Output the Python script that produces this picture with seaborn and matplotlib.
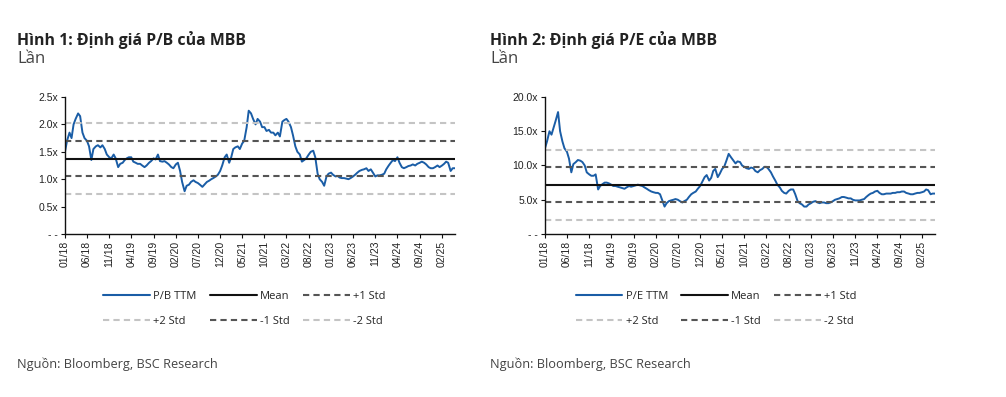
import pandas as pd
import matplotlib
matplotlib.use('Agg')
import matplotlib.pyplot as plt
import matplotlib.dates as mdates
from matplotlib.lines import Line2D
from matplotlib.ticker import FuncFormatter
import seaborn as sns

# === Data (semi-monthly readings, 1st and 15th of each month) ===
pb_values = [
    1.50, 1.70, 1.85, 1.75, 2.00, 2.10, 2.20, 2.15, 1.85, 1.75, 1.70, 1.60,
    1.35, 1.55, 1.60, 1.62, 1.58, 1.62, 1.55, 1.45, 1.40, 1.38, 1.45, 1.38,  # 2018
    1.22, 1.28, 1.30, 1.35, 1.38, 1.40, 1.40, 1.32, 1.30, 1.28, 1.28, 1.25,
    1.22, 1.25, 1.30, 1.33, 1.38, 1.36, 1.45, 1.33, 1.32, 1.33, 1.30, 1.27,  # 2019
    1.22, 1.20, 1.27, 1.30, 1.15, 0.95, 0.78, 0.88, 0.90, 0.95, 0.98, 0.95,
    0.93, 0.90, 0.86, 0.90, 0.95, 0.97, 1.00, 1.02, 1.05, 1.08, 1.15, 1.25,  # 2020
    1.40, 1.45, 1.30, 1.40, 1.55, 1.58, 1.60, 1.55, 1.65, 1.70, 1.95, 2.25,
    2.20, 2.10, 2.00, 2.10, 2.05, 1.95, 1.95, 1.88, 1.90, 1.85, 1.85, 1.80,  # 2021
    1.85, 1.78, 2.05, 2.08, 2.10, 2.05, 1.95, 1.80, 1.60, 1.50, 1.45, 1.32,
    1.35, 1.38, 1.45, 1.50, 1.52, 1.40, 1.10, 1.00, 0.95, 0.88, 1.05, 1.10,  # 2022
    1.12, 1.08, 1.05, 1.06, 1.03, 1.02, 1.02, 1.01, 1.00, 1.02, 1.05, 1.08,
    1.12, 1.15, 1.17, 1.18, 1.20, 1.15, 1.18, 1.12, 1.05, 1.07, 1.07, 1.08,  # 2023
    1.10, 1.18, 1.25, 1.30, 1.35, 1.33, 1.40, 1.30, 1.22, 1.20, 1.22, 1.24,
    1.25, 1.27, 1.25, 1.28, 1.30, 1.32, 1.30, 1.27, 1.22, 1.20, 1.20, 1.22,  # 2024
    1.25, 1.22, 1.25, 1.28, 1.32, 1.30, 1.15, 1.20, 1.20,                    # 2025
]
pe_values = [
    12.5, 13.5, 15.0, 14.5, 15.5, 16.5, 17.8, 15.0, 13.5, 12.5, 12.0, 11.0,
    9.0, 10.2, 10.5, 10.8, 10.7, 10.5, 10.0, 9.0, 8.7, 8.5, 8.5, 8.7,        # 2018
    6.5, 7.0, 7.3, 7.5, 7.5, 7.4, 7.2, 7.0, 7.0, 6.9, 6.8, 6.7,
    6.6, 6.8, 7.0, 6.9, 7.0, 7.1, 7.2, 7.1, 7.0, 6.8, 6.6, 6.4,              # 2019
    6.2, 6.1, 6.0, 6.0, 5.8, 5.0, 4.0, 4.5, 4.8, 4.9, 5.0, 5.1,
    5.0, 4.8, 4.6, 4.8, 5.0, 5.4, 5.8, 6.0, 6.2, 6.6, 7.0, 7.6,              # 2020
    8.3, 8.6, 7.8, 8.2, 9.2, 9.5, 8.3, 8.8, 9.5, 9.8, 10.8, 11.7,
    11.2, 10.8, 10.3, 10.6, 10.5, 10.0, 9.8, 9.6, 9.5, 9.7, 9.6, 9.2,        # 2021
    9.0, 9.3, 9.5, 9.8, 9.8, 9.5, 9.0, 8.4, 7.8, 7.2, 6.8, 6.3,
    6.0, 5.9, 6.3, 6.5, 6.5, 5.8, 4.8, 4.5, 4.3, 4.0, 4.0, 4.3,              # 2022
    4.5, 4.7, 4.8, 4.6, 4.5, 4.6, 4.6, 4.5, 4.5, 4.6, 4.8, 5.0,
    5.1, 5.2, 5.4, 5.4, 5.3, 5.2, 5.2, 5.0, 4.9, 4.9, 4.9, 5.0,              # 2023
    5.1, 5.4, 5.7, 5.9, 6.0, 6.2, 6.3, 6.0, 5.8, 5.8, 5.9, 5.9,
    5.9, 6.0, 6.0, 6.1, 6.1, 6.2, 6.2, 6.0, 5.9, 5.8, 5.8, 5.9,              # 2024
    6.0, 6.0, 6.1, 6.2, 6.5, 6.4, 5.8, 5.9, 5.9,                            # 2025
]
pb_mean, pb_std = 1.375, 0.325
pe_mean, pe_std = 7.2, 2.55
pb_yticks = [0, 0.5, 1.0, 1.5, 2.0, 2.5]
pe_yticks = [0, 5, 10, 15, 20]

BLUE = "#1a5da6"
DARK = "#555555"
LIGHT = "#c4c4c4"
TEXT_FONT = ["Open Sans", "DejaVu Sans"]

sns.set_theme(style="white")
plt.rcParams['font.family'] = ['Liberation Sans', 'DejaVu Sans']

fig = plt.figure(figsize=(10.06, 3.97), dpi=100)


def draw_panel(left, values, mean, std, yticks, fmt, label, title, legend_x, text_x):
    ax = fig.add_axes([left, 0.4106, 0.3877, 0.3451])
    dates = pd.date_range("2018-01-01", periods=len(values), freq="SMS")
    df = pd.DataFrame({"date": dates, "value": values})
    sns.lineplot(data=df, x="date", y="value", ax=ax, color=BLUE, linewidth=1.4)
    dash = (3.0, 2.0)
    ax.axhline(mean, color="#111111", linewidth=1.5)
    ax.axhline(mean + std, color=DARK, linewidth=1.5, dashes=dash)
    ax.axhline(mean - std, color=DARK, linewidth=1.5, dashes=dash)
    ax.axhline(mean + 2 * std, color=LIGHT, linewidth=1.5, dashes=dash)
    ax.axhline(mean - 2 * std, color=LIGHT, linewidth=1.5, dashes=dash)

    ax.set_xlim(dates[0], dates[-1])
    ax.set_ylim(yticks[0], yticks[-1])
    ax.set_yticks(yticks)
    ax.yaxis.set_major_formatter(FuncFormatter(lambda v, p: "- -" if v == 0 else fmt.format(v)))
    ax.set_xticks(pd.date_range("2018-01-01", dates[-1], freq="5MS"))
    ax.xaxis.set_major_formatter(mdates.DateFormatter("%m/%y"))
    ax.set_xlabel("")
    ax.set_ylabel("")
    for s in ["top", "right"]:
        ax.spines[s].set_visible(False)
    for s in ["left", "bottom"]:
        ax.spines[s].set_color("#111111")
        ax.spines[s].set_linewidth(1.0)
    ax.tick_params(axis="both", which="major", direction="out", length=3, width=0.8,
                   color="#111111", labelsize=7.5, labelcolor="#222222", pad=2,
                   left=True, bottom=True)
    ax.tick_params(axis="x", labelrotation=90)

    handles = [
        Line2D([], [], color=BLUE, linewidth=1.5),
        Line2D([], [], color=LIGHT, linewidth=1.5, dashes=dash),
        Line2D([], [], color="#111111", linewidth=1.5),
        Line2D([], [], color=DARK, linewidth=1.5, dashes=dash),
        Line2D([], [], color=DARK, linewidth=1.5, dashes=dash),
        Line2D([], [], color=LIGHT, linewidth=1.5, dashes=dash),
    ]
    labels = [label, "+2 Std", "Mean", "-1 Std", "+1 Std", "-2 Std"]
    fig.legend(handles, labels, loc="upper center", bbox_to_anchor=(legend_x, 0.292),
               ncol=3, frameon=False, handlelength=4.2, handletextpad=0.3,
               columnspacing=1.2, labelspacing=1.25,
               prop={"family": TEXT_FONT, "size": 8})

    fig.text(text_x, 0.887, title, fontsize=11.4, fontweight="bold", color="#222222",
             family=TEXT_FONT, va="baseline")
    fig.text(text_x, 0.841, "Lần", fontsize=12, color="#444444",
             family=TEXT_FONT, va="baseline")
    fig.text(text_x, 0.073, "Nguồn: Bloomberg, BSC Research", fontsize=9.2, color="#444444",
             family=TEXT_FONT, va="baseline")


draw_panel(0.0646, pb_values, pb_mean, pb_std, pb_yticks, "{:.1f}x", "P/B TTM",
           "Hình 1: Định giá P/B của MBB", 0.243, 0.017)
draw_panel(0.5417, pe_values, pe_mean, pe_std, pe_yticks, "{:.1f}x", "P/E TTM",
           "Hình 2: Định giá P/E của MBB", 0.712, 0.487)

fig.savefig("out.png", dpi=100)
